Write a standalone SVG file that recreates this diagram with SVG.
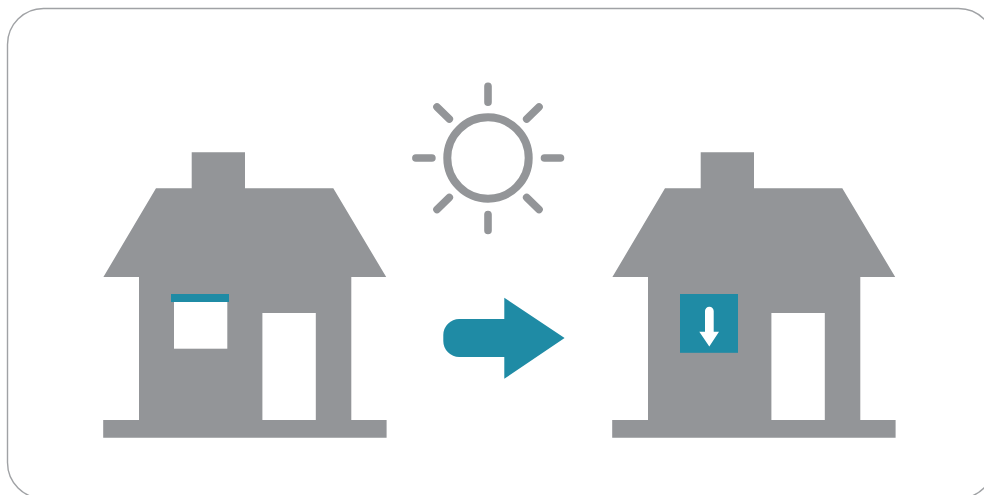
<svg xmlns="http://www.w3.org/2000/svg" width="984" height="495" viewBox="0 0 984 495">
<style>
.g{fill:#939598}.t{fill:#1f8ba5}.w{fill:#fff}
.r{stroke:#939598;stroke-width:7.6;stroke-linecap:round;fill:none}
</style>
<defs>
<path id="house" d="M191.7 152.3H245V188.3H333.3L386.2 277H351.3V420H386.6V437.7H103.2V420H139V277H103.4L156 188.3H191.7Z"/>
</defs>
<rect width="984" height="495" fill="#fff"/>
<rect id="frame" x="7.5" y="8.5" width="987" height="490" rx="36" ry="36" fill="#fff" stroke="#a0a2a5" stroke-width="1.4"/>
<g id="sun">
<circle cx="488" cy="158" r="40.7" fill="none" stroke="#939598" stroke-width="8"/>
<path class="r" d="M488 86.2V102.2M488 214.5V230.5M415.9 158H431.9M544.5 158H560.5M437 107L449.3 119M539 107L526.7 119M437 209.5L449.3 197.5M539 209.5L526.7 197.5"/>
</g>
<g id="house-left">
<use href="#house" class="g"/>
<rect class="w" x="174" y="300" width="53.3" height="48.7"/>
<rect class="w" x="262.4" y="313" width="53.4" height="107"/>
<rect class="t" x="171" y="294" width="58" height="8"/>
</g>
<g id="connectors">
<path id="big-arrow" class="t" d="M459.3 319H504.3V297.7L564.6 338L504.3 378.8V357H459.3A16 16 0 0 1 443.3 341V335A16 16 0 0 1 459.3 319Z"/>
</g>
<g id="house-right">
<use href="#house" x="509" class="g"/>
<rect class="w" x="771.4" y="313" width="53.4" height="107"/>
<rect class="t" x="680" y="294" width="58" height="58.8"/>
<path class="w" d="M705 311A4.35 4.35 0 0 1 713.7 311V331.7H719L709.3 346.5L699.3 331.7H705Z"/>
</g>
</svg>
